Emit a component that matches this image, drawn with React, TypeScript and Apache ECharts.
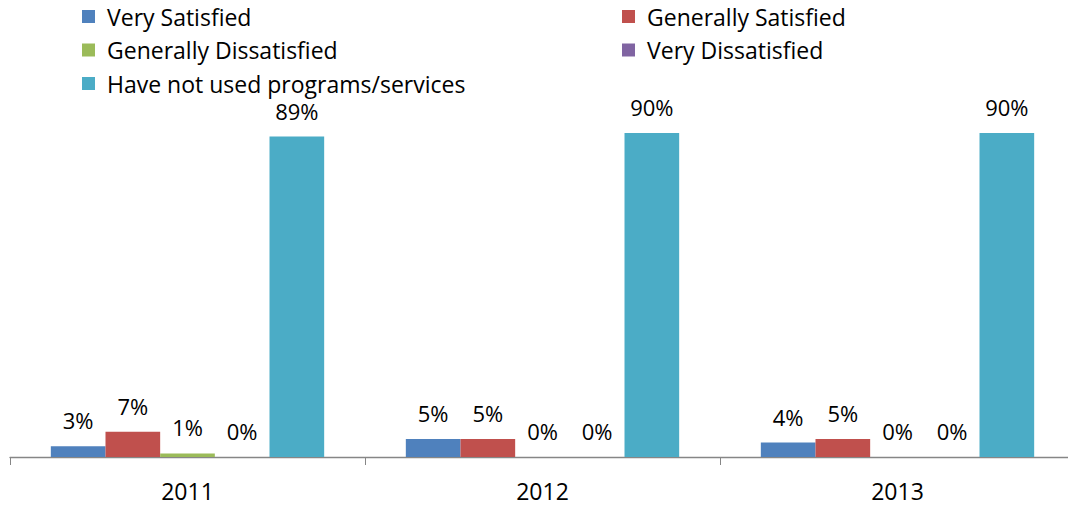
import React, { useEffect, useRef } from "react";
import * as echarts from "echarts";

const years = ["2011", "2012", "2013"];
const seriesNames = [
  "Very Satisfied",
  "Generally Satisfied",
  "Generally Dissatisfied",
  "Very Dissatisfied",
  "Have not used programs/services",
];
const verySatisfied = [3, 5, 4];
const generallySatisfied = [7, 5, 5];
const generallyDissatisfied = [1, 0, 0];
const veryDissatisfied = [0, 0, 0];
const notUsed = [89, 90, 90];
const colors = ["#4F81BD", "#C0504D", "#9BBB59", "#8064A2", "#4BACC6"];

const FONT = "'Open Sans', Lato, sans-serif";

export default function App() {
  const ref = useRef<HTMLDivElement>(null);
  useEffect(() => {
    if (!ref.current) return;
    const chart = echarts.init(ref.current, undefined, { renderer: "svg" });
    const values = [verySatisfied, generallySatisfied, generallyDissatisfied, veryDissatisfied, notUsed];
    const legendText = { fontSize: 23, color: "#000", fontFamily: FONT, lineHeight: 22, padding: [0, 0, 0, 7] };
    const legendBase = {
      orient: "vertical",
      top: 5,
      padding: 0,
      icon: "rect",
      itemWidth: 13,
      itemHeight: 13,
      itemGap: 10.5,
      textStyle: legendText,
      selectedMode: false,
    };
    chart.setOption({
      animation: false,
      color: colors,
      legend: [
        { ...legendBase, left: 82, data: [seriesNames[0], seriesNames[2], seriesNames[4]] },
        { ...legendBase, left: 622, data: [seriesNames[1], seriesNames[3]] },
      ],
      grid: { left: 10, top: 97, width: 1065, height: 360, containLabel: false, outerBoundsMode: "none" },
      xAxis: {
        type: "category",
        data: years,
        axisLine: { lineStyle: { color: "#868686", width: 1.3 } },
        axisTick: { show: true, length: 8, lineStyle: { color: "#868686" } },
        axisLabel: { fontSize: 23, color: "#000", fontFamily: FONT, margin: 22 },
      },
      yAxis: {
        type: "value",
        min: 0,
        max: 100,
        show: false,
        splitLine: { show: false },
      },
      series: seriesNames.map((name, i) => ({
        name,
        type: "bar",
        data: values[i],
        barGap: "0%",
        barCategoryGap: "23%",
        itemStyle: { color: colors[i] },
        label: {
          show: true,
          position: "top",
          distance: 17,
          formatter: (p: any) => `${p.value}%`,
          fontSize: 22,
          lineHeight: 18,
          color: "#000",
          fontFamily: FONT,
        },
      })),
    });
    return () => chart.dispose();
  }, []);
  return (
    <div
      ref={ref}
      style={{ position: "fixed", left: 0, top: 0, width: 1068, height: 506, background: "#fff" }}
    />
  );
}
